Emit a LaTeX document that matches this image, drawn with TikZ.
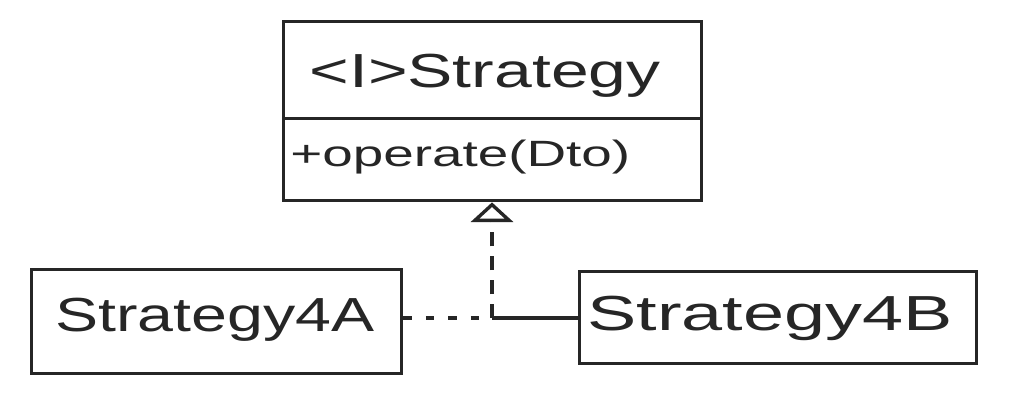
\documentclass[tikz,border=0pt]{standalone}
\usepackage{fontspec}
\setmainfont{Liberation Sans}
\newfontfamily\handT[FakeStretch=1.42]{Liberation Sans}
\newfontfamily\handO[FakeStretch=1.5]{Liberation Sans}
\newfontfamily\handA[FakeStretch=1.35]{Liberation Sans}
\newfontfamily\handB[FakeStretch=1.5]{Liberation Sans}
\usetikzlibrary{arrows.meta}
\begin{document}
\begin{tikzpicture}[x=0.025cm,y=-0.025cm,
  ink/.style={line width=2.4pt,draw=black!85},
  umlbox/.style={ink,rectangle,inner sep=0pt,anchor=north west},
  lbl/.style={text=black!85,inner sep=0pt}]
\useasboundingbox[fill=white] (0,0) rectangle (1024,412);
% Strategy interface
\node[umlbox,minimum width=418*0.025cm,minimum height=97*0.025cm] (head) at (282,20) {};
\node[umlbox,minimum width=418*0.025cm,minimum height=82*0.025cm] (body) at (282,117) {};
\node[lbl,font=\handT\fontsize{34}{34}\selectfont] (title) at (485,76) {<I>Strategy};
\node[lbl,font=\handO\fontsize{26}{26}\selectfont,anchor=west] (op) at (290,157) {+operate(Dto)};
% implementations
\node[umlbox,minimum width=370*0.025cm,minimum height=104*0.025cm] (a) at (30,268) {};
\node[umlbox,minimum width=397*0.025cm,minimum height=92*0.025cm] (b) at (578,270) {};
\node[lbl,font=\handA\fontsize{34}{34}\selectfont] (ta) at (215,320) {Strategy4A};
\node[lbl,font=\handB\fontsize{35}{35}\selectfont] (tb) at (770,318) {Strategy4B};
% connectors
\coordinate (j) at (492,318);
\draw[ink,dash pattern=on 10pt off 7pt,-{Triangle[open,length=14pt,width=30pt,line width=2.4pt]}] (j) -- (body.south -| j);
\draw[ink,dash pattern=on 6pt off 10pt] (a.east |- j) -- (j);
\draw[ink] (j) -- (b.west |- j);
\end{tikzpicture}
\end{document}
